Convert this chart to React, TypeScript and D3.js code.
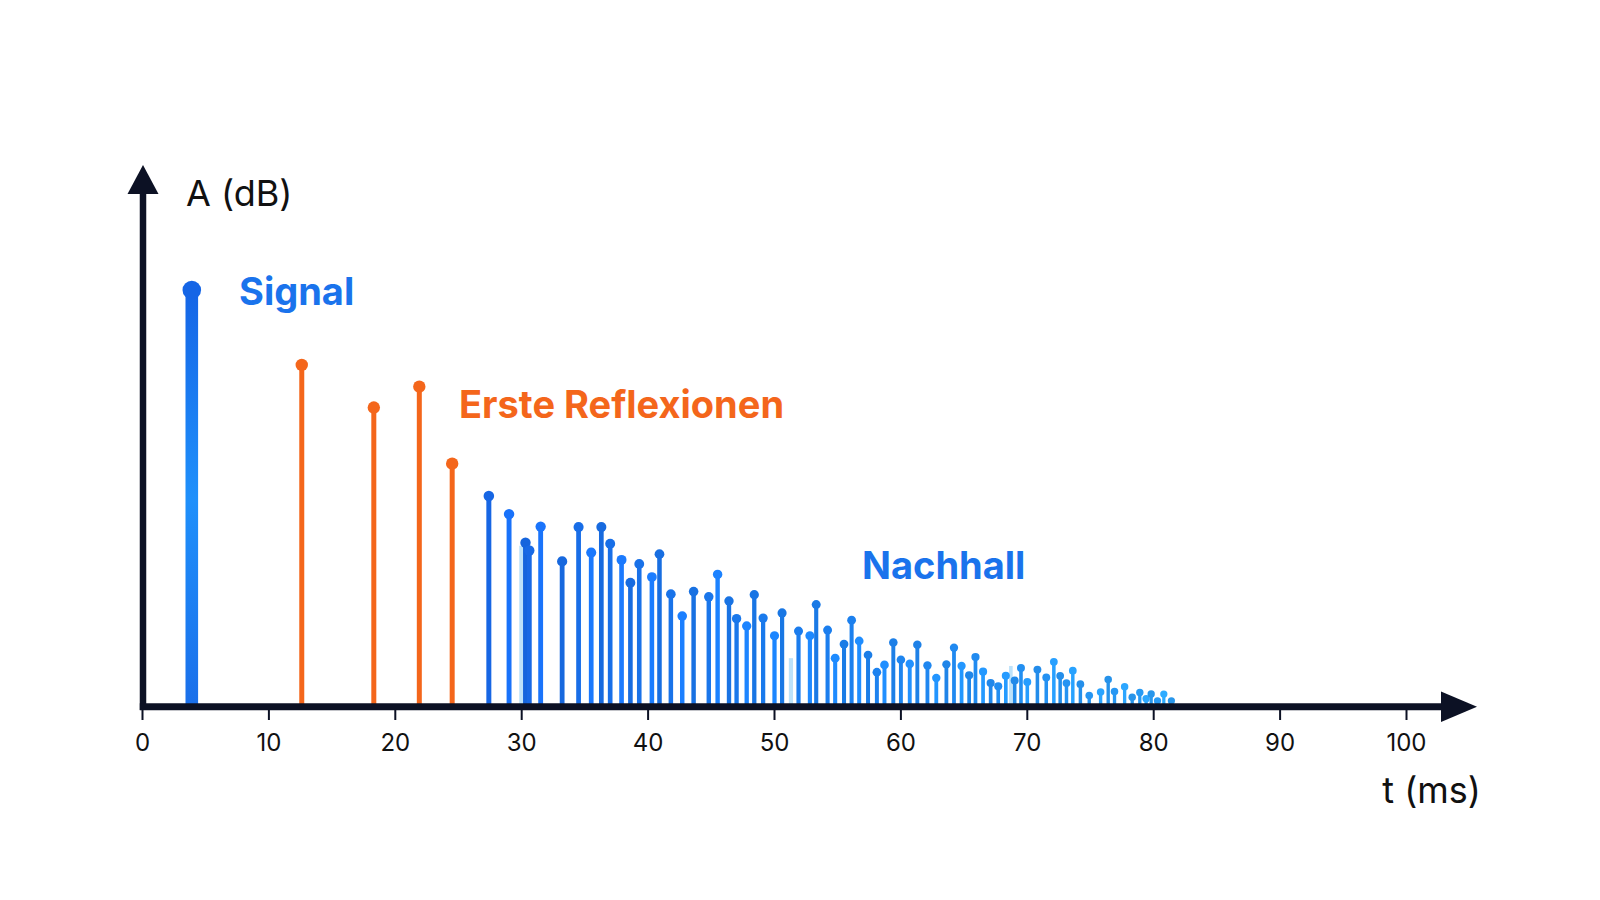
import React from 'react'
import * as d3 from 'd3'

// Direktschall
const signalTimes = [3.9]
const signalLevels = [80.0]

// Erste Reflexionen
const reflexTimes = [12.6, 18.3, 21.9, 24.5]
const reflexLevels = [65.6, 57.4, 61.4, 46.6]

// Nachhall (t in ms, A in dB)
const reverbTimes = [
  27.4, 29.0, 30.3, 30.6, 31.5, 33.2, 34.5, 35.5, 36.3, 37.0, 37.9, 38.6, 39.3, 40.3, 40.9,
  41.8, 42.7, 43.6, 44.8, 45.5, 46.4, 47.0, 47.8, 48.4, 49.1, 50.0, 50.6, 51.9, 52.8, 53.3,
  54.2, 54.8, 55.5, 56.1, 56.7, 57.4, 58.1, 58.7, 59.4, 60.0, 60.7, 61.3, 62.1, 62.8, 63.6,
  64.2, 64.8, 65.4, 65.9, 66.5, 67.1, 67.7, 68.3, 69.0, 69.5, 70.0, 70.8, 71.5, 72.1, 72.6,
  73.1, 73.6, 74.2, 74.9, 75.8, 76.4, 76.9, 77.7, 78.3, 78.9, 79.4, 79.8, 80.3, 80.8, 81.4,
]
const reverbLevels = [
  40.4, 36.9, 31.4, 29.9, 34.5, 27.8, 34.4, 29.5, 34.4, 31.2, 28.1, 23.7, 27.3, 24.8, 29.2,
  21.5, 17.3, 22.0, 21.0, 25.3, 20.2, 16.8, 15.4, 21.4, 16.9, 13.5, 17.9, 14.4, 13.5, 19.5,
  14.6, 9.2, 11.9, 16.5, 12.5, 9.8, 6.5, 7.9, 12.2, 8.9, 8.1, 11.8, 7.8, 5.4, 8.0,
  11.2, 7.7, 5.9, 9.4, 6.6, 4.4, 3.8, 5.8, 4.9, 7.3, 4.6, 7.0, 5.5, 8.5, 5.8,
  4.4, 6.8, 4.2, 2.0, 2.7, 5.1, 2.8, 3.7, 1.7, 2.6, 1.4, 2.3, 1.0, 2.3, 1.0,
]
// schwache, diffuse Anteile
const ghostTimes = [30.0, 51.3, 68.7]
const ghostLevels = [30.8, 9.2, 7.7]

const xTicks = [0, 10, 20, 30, 40, 50, 60, 70, 80, 90, 100]

const W = 1600
const H = 900
const AXIS = '#0c1124'
const BLUE = '#1a73ec'
const ORANGE = '#f4661b'

const App = () => {
  const x = d3.scaleLinear().domain([0, 100]).range([142.5, 1406.5])
  const y = d3.scaleLinear().domain([0, 100]).range([706, 186])
  const base = y(0)

  const widthScale = d3.scaleLinear().domain([27, 82]).range([5, 3.2])
  const rScale = d3.scaleLinear().domain([27, 82]).range([5.3, 3.6])
  const colorScale = d3.scaleLinear<string>().domain([27, 55, 82]).range(['#1766e4', '#1b7fee', '#2a9df4'])

  const reverb = reverbTimes.map((t, i) => ({ t, a: reverbLevels[i] }))
  const ghosts = ghostTimes.map((t, i) => ({ t, a: ghostLevels[i] }))

  return (
    <svg width={W} height={H} style={{ position: 'absolute', left: 0, top: 0, background: '#fff' }}>
      <defs>
        <linearGradient id="sig" x1="0" y1="0" x2="0" y2="1">
          <stop offset="0" stopColor="#1565e6" />
          <stop offset="0.5" stopColor="#1f90fb" />
          <stop offset="1" stopColor="#1a6fea" />
        </linearGradient>
      </defs>

      {/* ghost stems */}
      {ghosts.map((d, i) => (
        <g key={'g' + i} opacity={0.45}>
          <line x1={x(d.t)} x2={x(d.t)} y1={base} y2={y(d.a)} stroke="#6fc0f5" strokeWidth={widthScale(d.t)} />
        </g>
      ))}

      {/* Nachhall */}
      {reverb.map((d, i) => {
        const c = d3.color(colorScale(d.t))!
        const col = i % 3 === 1 ? c.brighter(0.25).toString() : i % 3 === 2 ? c.darker(0.1).toString() : c.toString()
        return (
          <g key={'r' + i}>
            <line x1={x(d.t)} x2={x(d.t)} y1={base} y2={y(d.a)} stroke={col} strokeWidth={widthScale(d.t)} />
            <circle cx={x(d.t)} cy={y(d.a)} r={rScale(d.t)} fill={col} />
          </g>
        )
      })}

      {/* Erste Reflexionen */}
      {reflexTimes.map((t, i) => (
        <g key={'e' + i}>
          <line x1={x(t)} x2={x(t)} y1={base} y2={y(reflexLevels[i])} stroke={ORANGE} strokeWidth={5} />
          <circle cx={x(t)} cy={y(reflexLevels[i])} r={6.2} fill={ORANGE} />
        </g>
      ))}

      {/* Signal */}
      {signalTimes.map((t, i) => (
        <g key={'s' + i}>
          <rect x={x(t) - 6.3} y={y(signalLevels[i])} width={12.6} height={base - y(signalLevels[i])} fill="url(#sig)" />
          <circle cx={x(t)} cy={y(signalLevels[i])} r={9.3} fill="#1565e6" />
        </g>
      ))}

      {/* axes */}
      <line x1={143} x2={143} y1={710} y2={192} stroke={AXIS} strokeWidth={6.5} />
      <polygon points="143,165 127.5,194 158.5,194" fill={AXIS} />
      <line x1={139.8} x2={1444} y1={706.7} y2={706.7} stroke={AXIS} strokeWidth={7} />
      <polygon points="1441,691.5 1477,706.7 1441,722" fill={AXIS} />

      {xTicks.map(t => (
        <g key={'t' + t}>
          <line x1={x(t)} x2={x(t)} y1={710} y2={720} stroke={AXIS} strokeWidth={2} />
          <text x={x(t)} y={750.5} textAnchor="middle" fontFamily="Inter" fontSize={24} fill="#111">
            {t}
          </text>
        </g>
      ))}

      <text x={186} y={206} fontFamily="Inter" fontSize={36} fill="#111">A (dB)</text>
      <text x={1481} y={803} textAnchor="end" fontFamily="Inter" fontSize={36} fill="#111">t (ms)</text>

      <text x={239} y={305} fontFamily="Inter" fontWeight={700} fontSize={38} fill={BLUE}>Signal</text>
      <text x={459} y={417.5} fontFamily="Inter" fontWeight={700} fontSize={38} fill={ORANGE}>Erste Reflexionen</text>
      <text x={862} y={578.5} fontFamily="Inter" fontWeight={700} fontSize={38} fill={BLUE}>Nachhall</text>
    </svg>
  )
}

export default App
